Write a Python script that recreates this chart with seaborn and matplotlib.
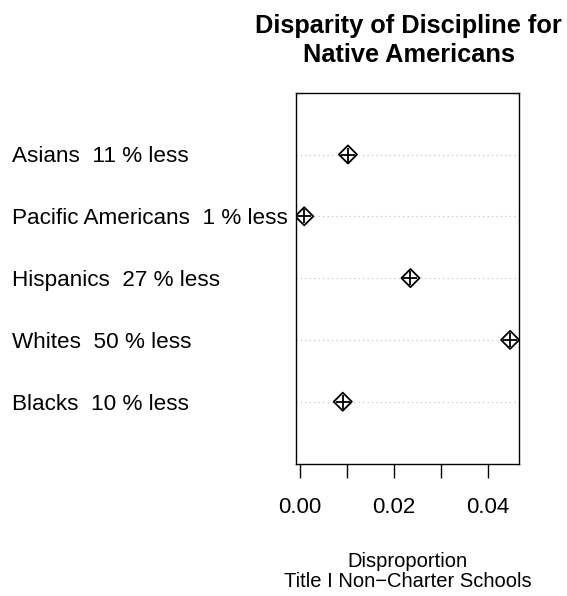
import matplotlib
matplotlib.use("Agg")
import matplotlib.pyplot as plt
import matplotlib.transforms as mtransforms
import seaborn as sns
import pandas as pd

groups = ["Blacks", "Whites", "Hispanics", "Pacific Americans", "Asians"]
pct_less = [10, 50, 27, 1, 11]
disprop = [0.0091, 0.0447, 0.0235, 0.0009, 0.0102]
xticks = [0.00, 0.01, 0.02, 0.03, 0.04]
xticklabels = ["0.00", "", "0.02", "", "0.04"]
title_lines = ["Disparity of Discipline for", "Native Americans"]
xlabel_lines = ["Disproportion", "Title I Non\u2212Charter Schools"]

labels = [f"{g}  {p} % less" for g, p in zip(groups, pct_less)]
df = pd.DataFrame({"label": labels, "value": disprop, "pos": list(range(1, len(groups) + 1))})

sns.set_style("white")
plt.rcParams['font.family'] = ['Liberation Sans', 'DejaVu Sans']
plt.rcParams['text.color'] = 'black'

W, H = 567, 596
fig = plt.figure(figsize=(W / 100, H / 100), dpi=100)
ax = fig.add_axes([296 / W, 1 - 463.5 / H, (518.7 - 296) / W, (463.5 - 92.7) / H])

for y in df["pos"]:
    ax.axhline(y, color="#bebebe", linestyle=(0, (1, 3)), linewidth=0.8, zorder=1)

sns.scatterplot(data=df, x="value", y="pos", marker="D", s=85, facecolor="none",
                edgecolor="black", linewidth=1.3, ax=ax, zorder=3)
sns.scatterplot(data=df, x="value", y="pos", marker="+", s=110, color="black",
                linewidth=1.3, ax=ax, zorder=3)

ax.set_xlim(-0.00085, 0.04653)
ax.set_ylim(0, 6)
ax.set_yticks([])
ax.set_xticks(xticks)
ax.set_xticklabels(xticklabels, fontsize=16)
ax.tick_params(axis="x", direction="out", length=10, width=1, pad=14,
               colors="black", labelcolor="black", bottom=True)
for s in ax.spines.values():
    s.set_color("black")
    s.set_linewidth(1)
ax.set_xlabel("")
ax.set_ylabel("")

# row labels, left aligned at the figure margin
lab_tr = mtransforms.blended_transform_factory(fig.transFigure, ax.transData) + \
    mtransforms.ScaledTranslation(0, -8.0 / 100, fig.dpi_scale_trans)
for lab, y in zip(df["label"], df["pos"]):
    fig.text(12 / W, y, lab, fontsize=16.2, va="baseline", ha="left",
             color="black", transform=lab_tr)

xc = (296 + 518.7) / 2 / W
for line, yb in zip(title_lines, [33.3, 61.7]):
    fig.text(xc + 1.5 / W, 1 - yb / H, line, fontsize=18.3, fontweight="bold",
             ha="center", va="baseline", color="black")
for line, yb in zip(xlabel_lines, [566.7, 586.7]):
    fig.text(xc, 1 - yb / H, line, fontsize=14.5,
             ha="center", va="baseline", color="black")

fig.savefig("out.png", dpi=100)
